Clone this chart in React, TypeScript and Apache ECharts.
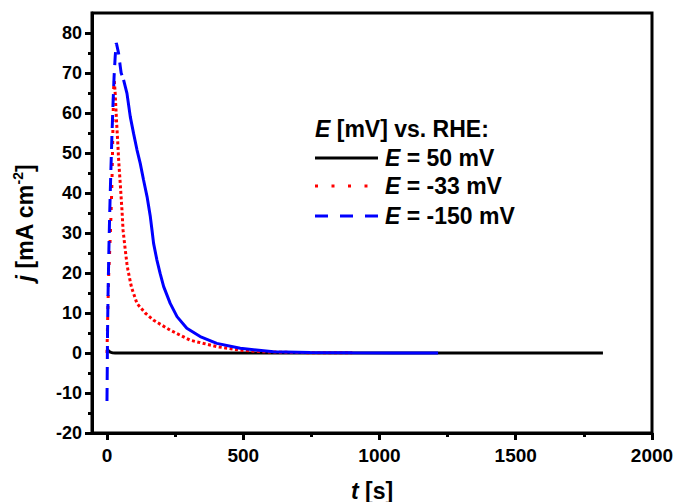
import React, { useEffect, useRef } from "react";
import * as echarts from "echarts";

// ---- data ----
const xTicks = [0, 500, 1000, 1500, 2000];
const xMinorTicks = [250, 750, 1250, 1750];
const yTicks = [-20, -10, 0, 10, 20, 30, 40, 50, 60, 70, 80];
const yMinorTicks = [-15, -5, 5, 15, 25, 35, 45, 55, 65, 75];

// E = 50 mV
const blackT = [0, 2, 5, 10, 15, 20, 30, 50, 100, 200, 400, 800, 1200, 1600, 1820];
const blackJ = [1.0, 0.8, 0.55, 0.3, 0.15, 0.08, 0.03, 0.02, 0.02, 0.01, 0.01, 0.0, 0.0, 0.0, 0.0];

// E = -33 mV
const redT = [0, 2, 6, 12, 15, 18, 20, 22, 23.5, 25, 27, 30, 35, 40, 43, 49, 55, 59, 65, 73, 77, 88, 92, 110, 140, 171, 232, 305, 403, 489, 573, 700, 900];
const redJ = [0, 7, 19, 29, 35, 42, 49, 57, 63, 67.5, 68, 65, 58, 52, 48, 42, 35.7, 30.7, 27, 22.4, 20.7, 17, 16, 12.4, 10, 8.2, 5.7, 3.2, 1.6, 0.7, 0.3, 0.1, 0.05];
const redPeakIndex = 10;

// E = -150 mV
const blueT = [0, 1, 2, 4, 7, 10, 14, 18, 22, 26, 30, 34, 36, 42.6, 48.8, 52, 60.9, 73.3, 85.4, 97.5, 110, 122, 134, 147, 159, 165, 171, 183, 195, 208, 232, 257, 293, 342, 403, 489, 611, 745, 900, 1050, 1215];
const blueJ = [-12, -4, 5, 15, 26, 35, 45, 54, 62, 69, 74, 77.5, 77, 74.9, 71.6, 70, 68.3, 64.9, 59.1, 54.9, 50.8, 47.4, 43.3, 39.1, 34.1, 30.8, 27.4, 23.3, 19.9, 16.6, 12.4, 9.1, 6.2, 4.1, 2.4, 1.2, 0.3, 0.1, 0.05, 0.02, 0.0];
const blueDashEndIndex = 16;

const legendNames = ["50 mV", "-33 mV", "-150 mV"];

const pairs = (t: number[], j: number[], from = 0, to = t.length - 1) => {
  const out: number[][] = [];
  for (let i = from; i <= to; i++) out.push([t[i], j[i]]);
  return out;
};

const FONT = "'Liberation Sans', Arial, sans-serif";

export default function App() {
  const ref = useRef<HTMLDivElement>(null);
  useEffect(() => {
    if (!ref.current) return;
    const chart = echarts.init(ref.current, undefined, { renderer: "svg" });
    const labelStyle = { fontFamily: FONT, fontWeight: "bold" as const, color: "#000" };
    const lineBase = { type: "line" as const, showSymbol: false, symbol: "none", xAxisIndex: 0, yAxisIndex: 0, animation: false };
    const fmt = (v: number) => String(v);

    const legendX = 315;
    const legendRows = [158, 186, 216];
    const legendLines = [
      { color: "#000", dash: null as null | number[] },
      { color: "#ff0000", dash: [3, 13.5] },
      { color: "#0000ff", dash: [13, 12] },
    ];
    const LF = 23;

    chart.setOption({
      animation: false,
      grid: {
        left: 92, right: 23, top: 13, bottom: 69, show: true, borderColor: "#000", borderWidth: 3,
        containLabel: false, outerBoundsMode: "none",
      },
      xAxis: [
        {
          type: "value", min: -55, max: 2000, position: "bottom",
          name: "{i|t} [s]", nameLocation: "middle", nameGap: 46,
          nameTextStyle: { ...labelStyle, fontSize: 23, rich: { i: { ...labelStyle, fontSize: 23, fontStyle: "italic" } } },
          axisLine: { show: true, onZero: false, lineStyle: { color: "#000", width: 3 } },
          axisTick: { show: true, customValues: xTicks, inside: false, length: 7, lineStyle: { color: "#000", width: 3 } },
          axisLabel: { show: true, customValues: xTicks, margin: 13, formatter: fmt, fontSize: 19, ...labelStyle },
          splitLine: { show: false },
        },
        {
          type: "value", min: -55, max: 2000, position: "bottom",
          axisLine: { show: false, onZero: false },
          axisTick: { show: true, customValues: xMinorTicks, inside: false, length: 4, lineStyle: { color: "#000", width: 3 } },
          axisLabel: { show: false },
          splitLine: { show: false },
        },
      ],
      yAxis: [
        {
          type: "value", min: -20, max: 85, position: "left",
          name: "{i|j} [mA cm{sup|-2}]", nameLocation: "middle", nameGap: 53,
          nameTextStyle: {
            ...labelStyle, fontSize: 23,
            rich: {
              i: { ...labelStyle, fontSize: 23, fontStyle: "italic" },
              sup: { ...labelStyle, fontSize: 14, padding: [0, 0, 14, 0] },
            },
          },
          axisLine: { show: true, onZero: false, lineStyle: { color: "#000", width: 3 } },
          axisTick: { show: true, customValues: yTicks, inside: false, length: 7, lineStyle: { color: "#000", width: 3 } },
          axisLabel: { show: true, customValues: yTicks, margin: 10, formatter: fmt, fontSize: 18, ...labelStyle },
          splitLine: { show: false },
        },
        {
          type: "value", min: -20, max: 85, position: "left",
          axisLine: { show: false, onZero: false },
          axisTick: { show: true, customValues: yMinorTicks, inside: false, length: 4, lineStyle: { color: "#000", width: 3 } },
          axisLabel: { show: false },
          splitLine: { show: false },
        },
      ],
      series: [
        { ...lineBase, name: "E = " + legendNames[0], data: pairs(blackT, blackJ), lineStyle: { color: "#000", width: 3 }, z: 2 },
        { ...lineBase, name: "E = " + legendNames[1], data: pairs(redT, redJ, 0, redPeakIndex), lineStyle: { color: "#ff0000", width: 3, type: [3, 8] }, z: 3 },
        { ...lineBase, name: "E = " + legendNames[1], data: pairs(redT, redJ, redPeakIndex), lineStyle: { color: "#ff0000", width: 3, type: [3, 2.5] }, z: 3 },
        { ...lineBase, name: "E = " + legendNames[2], data: pairs(blueT, blueJ, 0, blueDashEndIndex), lineStyle: { color: "#0000ff", width: 3, type: [13, 8] }, z: 4 },
        { ...lineBase, name: "E = " + legendNames[2], data: pairs(blueT, blueJ, blueDashEndIndex), lineStyle: { color: "#0000ff", width: 3 }, z: 4 },
      ],
      graphic: [
        {
          type: "text", x: legendX, y: 129,
          style: {
            text: "{i|E} [mV] vs. RHE:",
            fill: "#000", font: `bold ${LF}px ${FONT}`, verticalAlign: "middle",
            rich: { i: { fontFamily: FONT, fontWeight: "bold", fontStyle: "italic", fontSize: LF, fill: "#000" } },
          },
        },
        ...legendRows.flatMap((y, k) => [
          {
            type: "line",
            shape: { x1: legendX, y1: y, x2: legendX + 63, y2: y },
            style: { stroke: legendLines[k].color, lineWidth: 3, lineDash: legendLines[k].dash || undefined },
          },
          {
            type: "text", x: legendX + 70, y: y,
            style: {
              text: "{i|E} = " + legendNames[k],
              fill: "#000", font: `bold ${LF}px ${FONT}`, verticalAlign: "middle",
              rich: { i: { fontFamily: FONT, fontWeight: "bold", fontStyle: "italic", fontSize: LF, fill: "#000" } },
            },
          },
        ]),
      ],
    });
    return () => chart.dispose();
  }, []);
  return <div ref={ref} style={{ position: "fixed", left: 0, top: 0, width: 675, height: 502, background: "#fff" }} />;
}
